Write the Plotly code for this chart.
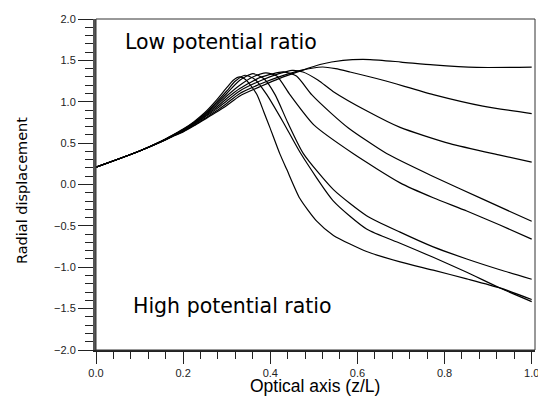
import plotly.graph_objects as go

# Curve data (x = z/L, y = radial displacement)
curve_a_x = [0, 0.05, 0.1, 0.15, 0.175, 0.2, 0.225, 0.25, 0.275, 0.3, 0.315, 0.33, 0.345, 0.369, 0.385, 0.399, 0.422, 0.438, 0.468, 0.506, 0.545, 0.621, 0.698, 0.774, 0.851, 0.927, 1.0]
curve_a_y = [0.21, 0.305, 0.405, 0.525, 0.595, 0.67, 0.76, 0.87, 1.01, 1.17, 1.26, 1.30, 1.26, 1.09, 0.88, 0.69, 0.37, 0.18, -0.17, -0.44, -0.615, -0.81, -0.935, -1.035, -1.14, -1.25, -1.39]

curve_b_x = [0, 0.05, 0.1, 0.15, 0.175, 0.2, 0.225, 0.25, 0.275, 0.3, 0.32, 0.342, 0.365, 0.392, 0.43, 0.47, 0.545, 0.621, 0.698, 0.774, 0.851, 0.927, 1.0]
curve_b_y = [0.21, 0.305, 0.405, 0.523, 0.592, 0.665, 0.75, 0.855, 0.985, 1.13, 1.25, 1.32, 1.27, 1.086, 0.75, 0.374, -0.20, -0.537, -0.71, -0.88, -1.06, -1.25, -1.415]

curve_c_x = [0, 0.05, 0.1, 0.15, 0.175, 0.2, 0.225, 0.25, 0.275, 0.3, 0.33, 0.36, 0.385, 0.411, 0.44, 0.476, 0.545, 0.621, 0.698, 0.774, 0.851, 0.927, 1.0]
curve_c_y = [0.21, 0.305, 0.405, 0.522, 0.59, 0.66, 0.745, 0.845, 0.965, 1.10, 1.26, 1.34, 1.28, 1.086, 0.75, 0.374, -0.062, -0.377, -0.576, -0.754, -0.90, -1.03, -1.145]

curve_d_x = [0, 0.05, 0.1, 0.15, 0.175, 0.2, 0.225, 0.25, 0.275, 0.3, 0.33, 0.36, 0.39, 0.415, 0.445, 0.5, 0.59, 0.698, 0.774, 0.851, 0.927, 1.0]
curve_d_y = [0.21, 0.305, 0.405, 0.52, 0.587, 0.655, 0.74, 0.835, 0.945, 1.07, 1.20, 1.30, 1.35, 1.31, 1.086, 0.72, 0.374, 0.02, -0.16, -0.32, -0.49, -0.66]

curve_e_x = [0, 0.05, 0.1, 0.15, 0.175, 0.2, 0.225, 0.25, 0.275, 0.3, 0.33, 0.38, 0.43, 0.46, 0.495, 0.54, 0.58, 0.667, 0.774, 0.889, 1.0]
curve_e_y = [0.21, 0.305, 0.405, 0.519, 0.585, 0.65, 0.733, 0.825, 0.925, 1.04, 1.16, 1.30, 1.36, 1.31, 1.086, 0.86, 0.68, 0.374, 0.097, -0.18, -0.445]

curve_f_x = [0, 0.05, 0.1, 0.15, 0.175, 0.2, 0.225, 0.25, 0.275, 0.3, 0.33, 0.38, 0.42, 0.45, 0.475, 0.51, 0.544, 0.622, 0.698, 0.8125, 0.927, 1.0]
curve_f_y = [0.21, 0.305, 0.405, 0.518, 0.583, 0.645, 0.725, 0.815, 0.905, 1.01, 1.13, 1.26, 1.34, 1.38, 1.36, 1.26, 1.125, 0.888, 0.69, 0.493, 0.354, 0.27]

curve_g_x = [0, 0.05, 0.1, 0.15, 0.175, 0.2, 0.225, 0.25, 0.275, 0.3, 0.33, 0.38, 0.42, 0.47, 0.52, 0.55, 0.583, 0.659, 0.774, 0.888, 1.0]
curve_g_y = [0.21, 0.305, 0.405, 0.517, 0.58, 0.64, 0.715, 0.80, 0.885, 0.98, 1.10, 1.22, 1.30, 1.38, 1.42, 1.40, 1.36, 1.26, 1.086, 0.947, 0.857]

curve_h_x = [0, 0.05, 0.1, 0.15, 0.175, 0.2, 0.225, 0.25, 0.275, 0.3, 0.33, 0.38, 0.42, 0.468, 0.514, 0.567, 0.629, 0.7, 0.774, 0.874, 1.0]
curve_h_y = [0.21, 0.305, 0.405, 0.516, 0.578, 0.635, 0.71, 0.79, 0.87, 0.955, 1.07, 1.19, 1.28, 1.37, 1.45, 1.50, 1.51, 1.48, 1.445, 1.415, 1.418]

curves = [
    (curve_a_x, curve_a_y), (curve_b_x, curve_b_y), (curve_c_x, curve_c_y), (curve_d_x, curve_d_y),
    (curve_e_x, curve_e_y), (curve_f_x, curve_f_y), (curve_g_x, curve_g_y), (curve_h_x, curve_h_y),
]

x_tick_vals = [0.0, 0.2, 0.4, 0.6, 0.8, 1.0]
y_tick_vals = [-2.0, -1.5, -1.0, -0.5, 0.0, 0.5, 1.0, 1.5, 2.0]

FONT = "Liberation Sans, Arial, sans-serif"
WIDE = "DejaVu Sans, Verdana, sans-serif"

fig = go.Figure()
for cx, cy in curves:
    fig.add_trace(go.Scatter(x=cx, y=cy, mode="lines",
                             line=dict(color="black", width=1.2, shape="spline", smoothing=0.6),
                             showlegend=False, hoverinfo="skip"))

# the page body has an 8px margin, so the figure is offset by (8, 8)
fig.update_layout(
    width=538, height=388,
    margin=dict(l=88, r=11, t=5, b=46),
    paper_bgcolor="white", plot_bgcolor="white",
    font=dict(family=FONT, color="black"),
    showlegend=False,
)

fig.update_xaxes(
    range=[0, 1.0076], tickvals=x_tick_vals, tickformat=".1f",
    ticks="outside", ticklen=12, tickwidth=1.2, tickcolor="#222",
    minor=dict(dtick=0.04, ticks="outside", ticklen=7, tickwidth=1.2, tickcolor="#222", showgrid=False),
    showline=True, linecolor="#222", linewidth=2,
    showgrid=False, zeroline=False, ticklabeloverflow="allow",
    tickfont=dict(size=11, color="#222", family=FONT),
)
fig.update_yaxes(
    range=[-2, 2], tickvals=y_tick_vals, tickformat=".1f",
    ticks="outside", ticklen=15, tickwidth=1.2, tickcolor="#222",
    minor=dict(dtick=0.1, ticks="outside", ticklen=8, tickwidth=1.2, tickcolor="#222", showgrid=False),
    showline=True, linecolor="#555", linewidth=3,
    showgrid=False, zeroline=False, ticklabeloverflow="allow",
    tickfont=dict(size=11, color="#222", family=FONT),
)

# thin frame (top and right)
fig.add_shape(type="rect", xref="paper", yref="paper", x0=0, y0=0, x1=1, y1=1,
              line=dict(color="#333", width=1), layer="above")

# axis titles
fig.add_annotation(xref="paper", yref="paper", x=0.499, y=0, yanchor="middle", yshift=-36,
                   text="Optical axis (z/L)", showarrow=False, borderpad=0,
                   font=dict(size=17.5, family=FONT, color="black"))
fig.add_annotation(xref="paper", yref="paper", x=0, y=0.48, xanchor="center", xshift=-74,
                   text="Radial displacement", textangle=-90, showarrow=False,
                   font=dict(size=14.5, family=WIDE, color="black"))

# in-plot labels
fig.add_annotation(x=0.063, y=1.72, xanchor="left", yanchor="middle",
                   text="Low potential ratio", showarrow=False,
                   font=dict(size=20.5, family=WIDE, color="black"))
fig.add_annotation(x=0.08, y=-1.474, xanchor="left", yanchor="middle",
                   text="High potential ratio", showarrow=False,
                   font=dict(size=20.5, family=WIDE, color="black"))

fig.write_html("out.html")
